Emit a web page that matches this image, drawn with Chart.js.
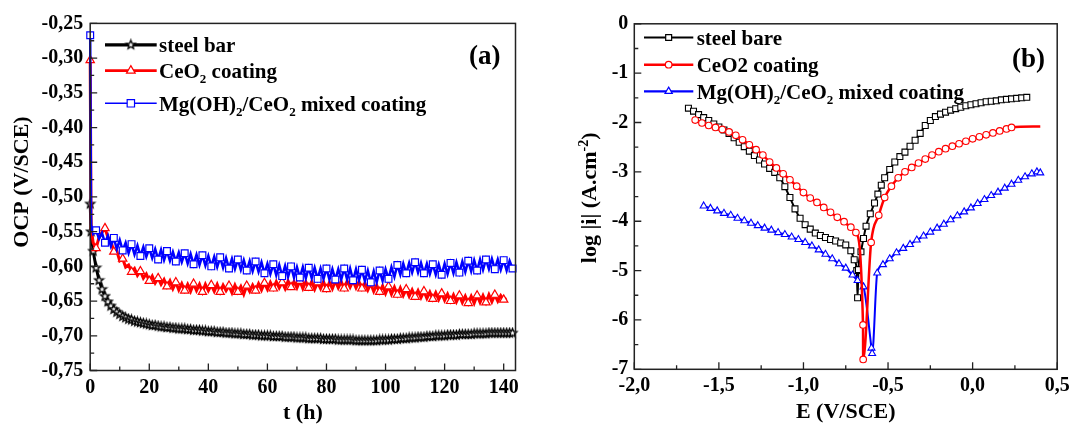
<!DOCTYPE html>
<html><head><meta charset="utf-8">
<script src="https://cdn.jsdelivr.net/npm/chart.js"></script>
<style>
html,body{margin:0;padding:0;background:#fff;overflow:hidden;width:1074px;height:425px;}
#wrap{position:relative;width:1074px;height:425px;overflow:hidden;background:#fff;}
#ca{position:absolute;left:0;top:0;width:540px;height:434px;}
#cb{position:absolute;left:540px;top:0;width:534px;height:434px;}
</style></head><body>
<div id="wrap">
<canvas id="ca" width="540" height="434"></canvas>
<canvas id="cb" width="534" height="434"></canvas>
</div>
<script>
// ---------- Panel (a): OCP vs time ----------
const hours = [0,0.3,1,2,3,4,5,6,7,8,9,10,11,12,13,14,15,16,17,18,19,20,21,22,23,24,25,26,27,28,29,30,31,32,33,34,35,36,37,38,39,40,41,42,43,44,45,46,47,48,49,50,51,52,53,54,55,56,57,58,59,60,61,62,63,64,65,66,67,68,69,70,71,72,73,74,75,76,77,78,79,80,81,82,83,84,85,86,87,88,89,90,91,92,93,94,95,96,97,98,99,100,101,102,103,104,105,106,107,108,109,110,111,112,113,114,115,116,117,118,119,120,121,122,123,124,125,126,127,128,129,130,131,132,133,134,135,136,137,138,139,140,141,142,143];
const steelBarOCP = [-0.510,-0.550,-0.578,-0.602,-0.620,-0.633,-0.643,-0.651,-0.657,-0.662,-0.666,-0.669,
-0.672,-0.674,-0.676,-0.677,-0.679,-0.680,-0.681,-0.682,-0.683,-0.684,
-0.685,-0.685,-0.686,-0.687,-0.687,-0.688,-0.688,-0.689,-0.689,-0.690,
-0.690,-0.690,-0.691,-0.691,-0.692,-0.692,-0.692,-0.693,-0.693,-0.694,
-0.694,-0.694,-0.695,-0.695,-0.695,-0.696,-0.696,-0.696,-0.697,-0.697,
-0.697,-0.698,-0.698,-0.698,-0.699,-0.699,-0.699,-0.700,-0.700,-0.700,
-0.700,-0.701,-0.701,-0.701,-0.701,-0.702,-0.702,-0.702,-0.702,-0.703,
-0.703,-0.703,-0.703,-0.704,-0.704,-0.704,-0.704,-0.704,-0.705,-0.705,
-0.705,-0.705,-0.705,-0.706,-0.706,-0.706,-0.706,-0.706,-0.706,-0.707,
-0.707,-0.707,-0.707,-0.707,-0.707,-0.707,-0.707,-0.706,-0.706,-0.706,
-0.706,-0.705,-0.705,-0.705,-0.704,-0.704,-0.704,-0.703,-0.703,-0.703,
-0.702,-0.702,-0.702,-0.701,-0.701,-0.701,-0.700,-0.700,-0.700,-0.700,
-0.699,-0.699,-0.699,-0.699,-0.698,-0.698,-0.698,-0.698,-0.698,-0.697,
-0.697,-0.697,-0.697,-0.697,-0.696,-0.696,-0.696,-0.696,-0.696,-0.696,
-0.696,-0.696,-0.696];
const ceo2OCP = [-0.303,-0.545,-0.566,-0.574,-0.558,-0.551,-0.545,-0.558,-0.563,-0.579,-0.578,-0.592,
-0.589,-0.601,-0.598,-0.608,-0.603,-0.613,-0.607,-0.617,-0.611,-0.621,
-0.614,-0.624,-0.617,-0.626,-0.619,-0.629,-0.621,-0.632,-0.623,-0.634,
-0.625,-0.635,-0.626,-0.636,-0.625,-0.635,-0.626,-0.637,-0.626,-0.635,
-0.627,-0.636,-0.626,-0.637,-0.627,-0.635,-0.628,-0.638,-0.627,-0.637,
-0.629,-0.640,-0.628,-0.636,-0.627,-0.635,-0.625,-0.634,-0.624,-0.633,
-0.623,-0.632,-0.622,-0.631,-0.623,-0.632,-0.621,-0.630,-0.622,-0.631,
-0.621,-0.632,-0.622,-0.631,-0.622,-0.633,-0.623,-0.632,-0.622,-0.633,
-0.623,-0.632,-0.621,-0.631,-0.622,-0.632,-0.621,-0.630,-0.621,-0.631,
-0.622,-0.632,-0.624,-0.634,-0.625,-0.636,-0.627,-0.637,-0.628,-0.639,
-0.629,-0.640,-0.630,-0.641,-0.631,-0.642,-0.633,-0.643,-0.634,-0.644,
-0.635,-0.645,-0.636,-0.646,-0.637,-0.647,-0.638,-0.648,-0.639,-0.649,
-0.640,-0.650,-0.641,-0.651,-0.642,-0.652,-0.643,-0.653,-0.643,-0.653,
-0.642,-0.652,-0.642,-0.652,-0.641,-0.651,-0.641,-0.650,-0.642,-0.648,
-0.646,null,null];
const mixedOCP = [-0.267,-0.540,-0.553,-0.548,-0.560,-0.552,-0.566,-0.556,-0.571,-0.559,-0.575,-0.562,
-0.577,-0.566,-0.581,-0.568,-0.583,-0.570,-0.585,-0.572,-0.586,-0.574,
-0.588,-0.575,-0.590,-0.576,-0.591,-0.578,-0.592,-0.579,-0.593,-0.580,
-0.594,-0.581,-0.596,-0.582,-0.597,-0.583,-0.598,-0.584,-0.599,-0.585,
-0.600,-0.586,-0.601,-0.587,-0.602,-0.588,-0.603,-0.589,-0.604,-0.590,
-0.605,-0.591,-0.606,-0.592,-0.607,-0.593,-0.608,-0.594,-0.610,-0.596,
-0.611,-0.597,-0.613,-0.598,-0.614,-0.599,-0.615,-0.600,-0.616,-0.601,
-0.616,-0.601,-0.617,-0.602,-0.617,-0.602,-0.618,-0.603,-0.618,-0.603,
-0.619,-0.604,-0.619,-0.604,-0.619,-0.603,-0.619,-0.603,-0.620,-0.604,
-0.620,-0.605,-0.621,-0.606,-0.623,-0.607,-0.623,-0.606,-0.621,-0.604,
-0.618,-0.601,-0.615,-0.598,-0.612,-0.596,-0.610,-0.595,-0.609,-0.594,
-0.609,-0.595,-0.610,-0.596,-0.611,-0.597,-0.612,-0.597,-0.612,-0.596,
-0.611,-0.595,-0.610,-0.594,-0.609,-0.593,-0.608,-0.592,-0.607,-0.591,
-0.606,-0.590,-0.605,-0.590,-0.604,-0.589,-0.604,-0.590,-0.605,-0.591,
-0.606,-0.592,-0.603];

// ---------- Panel (b): polarization curves ----------
const steelE = [-1.68,-1.65,-1.62,-1.59,-1.56,-1.53,-1.50,-1.47,-1.44,-1.41,-1.38,-1.35,-1.32,-1.29,-1.26,-1.23,-1.20,-1.17,-1.14,-1.11,-1.08,-1.05,-1.02,-0.99,-0.96,-0.93,-0.90,-0.87,-0.84,-0.81,-0.78,-0.75,-0.72,-0.70,-0.685,-0.68,-0.675,-0.66,-0.645,-0.63,-0.605,-0.58,-0.56,-0.54,-0.52,-0.49,-0.46,-0.43,-0.40,-0.37,-0.34,-0.31,-0.28,-0.25,-0.22,-0.19,-0.16,-0.13,-0.10,-0.07,-0.04,-0.01,0.02,0.05,0.08,0.11,0.14,0.17,0.20,0.23,0.26,0.29,0.32];
const steelLogI = [-1.71,-1.77,-1.84,-1.90,-1.96,-2.03,-2.09,-2.15,-2.22,-2.31,-2.40,-2.49,-2.58,-2.67,-2.76,-2.84,-2.93,-3.01,-3.12,-3.30,-3.52,-3.75,-3.94,-4.07,-4.16,-4.24,-4.29,-4.33,-4.37,-4.40,-4.44,-4.48,-4.60,-4.78,-5.00,-5.55,-4.98,-4.62,-4.35,-4.10,-3.85,-3.63,-3.45,-3.27,-3.12,-2.95,-2.80,-2.69,-2.60,-2.48,-2.36,-2.22,-2.06,-1.96,-1.88,-1.83,-1.79,-1.75,-1.72,-1.69,-1.66,-1.64,-1.62,-1.60,-1.58,-1.57,-1.56,-1.54,-1.53,-1.52,-1.51,-1.50,-1.49];
const ceE = [-1.64,-1.60,-1.56,-1.52,-1.48,-1.44,-1.40,-1.36,-1.32,-1.28,-1.24,-1.20,-1.16,-1.12,-1.08,-1.04,-1.00,-0.96,-0.92,-0.88,-0.84,-0.80,-0.76,-0.72,-0.69,-0.648,-0.647,-0.60,-0.555,-0.52,-0.48,-0.44,-0.40,-0.36,-0.32,-0.28,-0.24,-0.20,-0.16,-0.12,-0.08,-0.04,0.00,0.04,0.08,0.12,0.16,0.20,0.23,0.40];
const ceLogI = [-1.95,-2.01,-2.06,-2.10,-2.14,-2.19,-2.26,-2.35,-2.45,-2.55,-2.66,-2.80,-2.92,-3.04,-3.16,-3.29,-3.42,-3.53,-3.62,-3.72,-3.82,-3.92,-4.01,-4.12,-4.23,-6.10,-6.80,-4.43,-3.88,-3.52,-3.29,-3.12,-3.00,-2.91,-2.82,-2.74,-2.66,-2.59,-2.53,-2.48,-2.43,-2.38,-2.33,-2.29,-2.25,-2.21,-2.17,-2.13,-2.10,-2.08];
const mixE = [-1.59,-1.55,-1.51,-1.47,-1.43,-1.39,-1.35,-1.31,-1.27,-1.23,-1.19,-1.15,-1.11,-1.07,-1.03,-0.99,-0.95,-0.91,-0.87,-0.83,-0.79,-0.75,-0.71,-0.68,-0.645,-0.598,-0.594,-0.564,-0.53,-0.49,-0.45,-0.41,-0.37,-0.33,-0.29,-0.25,-0.21,-0.17,-0.13,-0.09,-0.05,-0.01,0.03,0.07,0.11,0.15,0.19,0.23,0.27,0.31,0.35,0.38,0.40];
const mixLogI = [-3.69,-3.74,-3.79,-3.84,-3.88,-3.94,-3.99,-4.04,-4.09,-4.14,-4.18,-4.23,-4.27,-4.32,-4.37,-4.43,-4.50,-4.58,-4.67,-4.76,-4.86,-4.95,-5.09,-5.20,-5.33,-6.57,-6.68,-5.05,-4.88,-4.76,-4.64,-4.55,-4.47,-4.38,-4.30,-4.22,-4.14,-4.06,-3.97,-3.89,-3.81,-3.73,-3.64,-3.56,-3.48,-3.41,-3.33,-3.25,-3.17,-3.10,-3.04,-3.00,-3.02];

// ---------- text ----------
const legendA = [
  [['steel bar','n']],
  [['CeO','n'],['2','sub'],[' coating','n']],
  [['Mg(OH)','n'],['2','sub'],['/CeO','n'],['2','sub'],[' mixed coating','n']]
];
const legendB = [
  [['steel bare','n']],
  [['CeO2 coating','n']],
  [['Mg(OH)','n'],['2','sub'],['/CeO','n'],['2','sub'],[' mixed coating','n']]
];
const yTitleA = [['OCP (V/SCE)','n']];
const yTitleB = [['log |i| (A.cm','n'],['-2','sup'],[')','n']];
const seriesNamesA = ['steel bar','CeO2 coating','Mg(OH)2/CeO2 mixed coating'];
const seriesNamesB = ['steel bare','CeO2 coating','Mg(OH)2/CeO2 mixed coating'];

const SERIF = "'Liberation Serif','Times New Roman',serif";
Chart.defaults.font.family = SERIF;
Chart.defaults.font.size = 20;
Chart.defaults.font.weight = 'bold';
Chart.defaults.color = '#000';

function makeStar(r, ri, lw) {
  const c = document.createElement('canvas');
  const s = Math.ceil(2 * r + 3); c.width = s; c.height = s;
  const g = c.getContext('2d');
  g.beginPath();
  for (let k = 0; k < 10; k++) {
    const rad = k % 2 ? ri : r;
    const a = -Math.PI / 2 + k * Math.PI / 5;
    g.lineTo(s / 2 + rad * Math.cos(a), s / 2 + rad * Math.sin(a));
  }
  g.closePath();
  g.fillStyle = '#fff'; g.fill();
  g.strokeStyle = '#000'; g.lineWidth = lw; g.stroke();
  return c;
}
const starImg = makeStar(4.6, 2.0, 1.4);

function richWidth(ctx, parts, size) {
  let w = 0;
  for (const [txt, kind] of parts) {
    ctx.font = 'bold ' + (kind === 'n' ? size : Math.round(size * 0.62)) + 'px ' + SERIF;
    w += ctx.measureText(txt).width;
  }
  return w;
}
function drawRich(ctx, x, y, parts, size) {
  let cx = x;
  ctx.textAlign = 'left'; ctx.textBaseline = 'alphabetic'; ctx.fillStyle = '#000';
  for (const [txt, kind] of parts) {
    if (kind === 'sub') {
      ctx.font = 'bold ' + Math.round(size * 0.62) + 'px ' + SERIF;
      ctx.fillText(txt, cx, y + size * 0.26);
    } else if (kind === 'sup') {
      ctx.font = 'bold ' + Math.round(size * 0.62) + 'px ' + SERIF;
      ctx.fillText(txt, cx, y - size * 0.40);
    } else {
      ctx.font = 'bold ' + size + 'px ' + SERIF;
      ctx.fillText(txt, cx, y);
    }
    cx += ctx.measureText(txt).width;
  }
}

const framePlugin = {
  id: 'frame',
  afterDatasetsDraw(chart, args, o) {
    const {ctx, chartArea: a} = chart;
    const xs = chart.scales.x, ys = chart.scales.y;
    ctx.save();
    ctx.strokeStyle = '#222'; ctx.lineWidth = 1.5;
    ctx.strokeRect(a.left, a.top, a.right - a.left, a.bottom - a.top);
    ctx.lineWidth = 1.3;
    ctx.beginPath();
    const xt = xs.ticks.map(t => t.value), yt = ys.ticks.map(t => t.value);
    xt.forEach(v => {
      const p = xs.getPixelForValue(v);
      ctx.moveTo(p, a.bottom); ctx.lineTo(p, a.bottom - o.major);
      const m = v + o.halfX;
      if (m < xs.max - 1e-9) { const q = xs.getPixelForValue(m); ctx.moveTo(q, a.bottom); ctx.lineTo(q, a.bottom - o.minor); }
    });
    yt.forEach(v => {
      const p = ys.getPixelForValue(v);
      ctx.moveTo(a.left, p); ctx.lineTo(a.left + o.major, p);
      const m = v + o.halfY;
      if (m < ys.max - 1e-9) { const q = ys.getPixelForValue(m); ctx.moveTo(a.left, q); ctx.lineTo(a.left + o.minor, q); }
    });
    ctx.stroke();
    ctx.restore();
  },
  afterDraw(chart, args, o) {
    const ctx = chart.ctx;
    ctx.save();
    o.items.forEach((it, i) => {
      const ds = chart.data.datasets[i];
      ctx.strokeStyle = ds.borderColor; ctx.lineWidth = o.legendLW[i];
      ctx.beginPath(); ctx.moveTo(o.lineX0, it.y); ctx.lineTo(o.lineX1, it.y); ctx.stroke();
      const mx = (o.lineX0 + o.lineX1) / 2;
      if (ds.pointStyle && typeof ds.pointStyle === 'object') {
        ctx.drawImage(ds.pointStyle, mx - ds.pointStyle.width / 2, it.y - ds.pointStyle.height / 2);
      } else {
        ctx.fillStyle = '#fff'; ctx.strokeStyle = ds.borderColor; ctx.lineWidth = 1.2;
        Chart.helpers.drawPoint(ctx, {pointStyle: ds.pointStyle, radius: o.markerR[i], borderWidth: 1.2, rotation: 0}, mx, it.y);
      }
      drawRich(ctx, o.textX, it.y + 7.2, it.parts, 21);
    });
    // panel tag
    ctx.font = 'bold ' + o.tagSize + 'px ' + SERIF;
    ctx.fillStyle = '#000'; ctx.textAlign = 'left'; ctx.textBaseline = 'alphabetic';
    ctx.fillText(o.tag, o.tagX, o.tagY);
    // rotated y-axis title
    const yt = o.yTitle;
    ctx.save();
    ctx.translate(yt.x, yt.cy);
    ctx.rotate(-Math.PI / 2);
    const w = richWidth(ctx, yt.parts, yt.size);
    drawRich(ctx, -w / 2, yt.size * 0.32, yt.parts, yt.size);
    ctx.restore();
    ctx.restore();
  }
};

function pts(xsArr, ysArr) { return xsArr.map((v, i) => ({x: v, y: ysArr[i]})); }

// ---------- Chart (a) ----------
new Chart(document.getElementById('ca'), {
  type: 'line',
  data: {
    datasets: [
      {label: seriesNamesA[0], data: pts(hours, steelBarOCP), borderColor: '#000', borderWidth: 3,
       pointStyle: starImg, pointRadius: 4, order: 3, clip: false},
      {label: seriesNamesA[1], data: pts(hours, ceo2OCP), borderColor: '#ff0000', borderWidth: 3,
       pointStyle: 'triangle', pointBackgroundColor: '#fff', pointBorderColor: '#ff0000', pointBorderWidth: 1.2,
       pointRadius: c => c.dataIndex % 3 === 0 ? 4.8 : 0, order: 2, clip: false},
      {label: seriesNamesA[2], data: pts(hours, mixedOCP), borderColor: '#0000ff', borderWidth: 2.5,
       pointStyle: 'rect', pointBackgroundColor: '#fff', pointBorderColor: '#0000ff', pointBorderWidth: 1.2,
       pointRadius: c => c.dataIndex % 3 === 0 ? 4.8 : 0, order: 1, clip: false}
    ]
  },
  options: {
    responsive: false, animation: false, devicePixelRatio: 1, events: [],
    layout: {padding: {left: 0, top: 23.4, right: 24.5, bottom: 0}},
    scales: {
      x: {type: 'linear', min: 0, max: 144,
        grid: {display: false, drawTicks: false}, border: {display: false},
        ticks: {stepSize: 20, includeBounds: false, padding: 5, maxRotation: 0, autoSkip: false,
          callback: v => String(v)},
        title: {display: true, text: 't (h)', font: {size: 22, weight: 'bold'}, padding: {top: 0, bottom: 7.6}},
        afterFit: s => { s.height = 63.5; }
      },
      y: {type: 'linear', min: -0.75, max: -0.25,
        grid: {display: false, drawTicks: false}, border: {display: false},
        ticks: {stepSize: 0.05, padding: 7, autoSkip: false,
          callback: v => v.toFixed(2).replace('.', ',')},
        title: {display: false},
        afterFit: s => { s.width = 90.2; }
      }
    },
    plugins: {
      legend: {display: false}, tooltip: {enabled: false},
      frame: {major: 7, minor: 4, halfX: 10, halfY: 0.025,
        lineX0: 105, lineX1: 156.7, textX: 159,
        markerR: [4, 5, 5.2], legendLW: [3.2, 2.6, 1.6],
        items: [{y: 44.8, parts: legendA[0]}, {y: 70.6, parts: legendA[1]}, {y: 103.3, parts: legendA[2]}],
        tag: '(a)', tagSize: 27, tagX: 469, tagY: 64,
        yTitle: {parts: yTitleA, size: 22, x: 20.7, cy: 182}}
    }
  },
  plugins: [framePlugin]
});

// ---------- Chart (b) ----------
new Chart(document.getElementById('cb'), {
  type: 'line',
  data: {
    datasets: [
      {label: seriesNamesB[0], data: pts(steelE, steelLogI), borderColor: '#000', borderWidth: 2,
       pointStyle: 'rect', pointBackgroundColor: '#fff', pointBorderColor: '#000', pointBorderWidth: 1.1,
       pointRadius: 4.2, order: 3, cubicInterpolationMode: 'monotone', clip: false},
      {label: seriesNamesB[1], data: pts(ceE, ceLogI), borderColor: '#ff0000', borderWidth: 2.5,
       pointStyle: 'circle', pointBackgroundColor: '#fff', pointBorderColor: '#ff0000', pointBorderWidth: 1.1,
       pointRadius: c => c.dataIndex === ceE.length - 1 ? 0 : 3.3, order: 1, cubicInterpolationMode: 'monotone', clip: false},
      {label: seriesNamesB[2], data: pts(mixE, mixLogI), borderColor: '#0000ff', borderWidth: 2,
       pointStyle: 'triangle', pointBackgroundColor: '#fff', pointBorderColor: '#0000ff', pointBorderWidth: 1.1,
       pointRadius: 4, order: 2, cubicInterpolationMode: 'monotone', clip: false}
    ]
  },
  options: {
    responsive: false, animation: false, devicePixelRatio: 1, events: [],
    layout: {padding: {left: 0, top: 23.8, right: 14, bottom: 0}},
    scales: {
      x: {type: 'linear', min: -2, max: 0.5,
        grid: {display: false, drawTicks: false}, border: {display: false},
        ticks: {stepSize: 0.5, padding: 4.3, maxRotation: 0, autoSkip: false,
          callback: v => v.toFixed(1).replace('.', ',')},
        title: {display: true, text: 'E (V/SCE)', font: {size: 22, weight: 'bold'}, padding: {top: 0, bottom: 8.2}},
        afterFit: s => { s.height = 64.7; }
      },
      y: {type: 'linear', min: -7, max: 0,
        grid: {display: false, drawTicks: false}, border: {display: false},
        ticks: {stepSize: 1, padding: 6, autoSkip: false, callback: v => String(v)},
        title: {display: false},
        afterFit: s => { s.width = 94.3; }
      }
    },
    plugins: {
      legend: {display: false}, tooltip: {enabled: false},
      frame: {major: 7, minor: 4, halfX: 0.25, halfY: 0.5,
        lineX0: 104, lineX1: 153.3, textX: 156.7,
        markerR: [4.2, 3.3, 4.2], legendLW: [2.2, 2.6, 2.2],
        items: [{y: 37.5, parts: legendB[0]}, {y: 64.7, parts: legendB[1]}, {y: 91.3, parts: legendB[2]}],
        tag: '(b)', tagSize: 27, tagX: 472, tagY: 66.5,
        yTitle: {parts: yTitleB, size: 22, x: 49.4, cy: 197.8}}
    }
  },
  plugins: [framePlugin]
});
</script>
</body></html>
